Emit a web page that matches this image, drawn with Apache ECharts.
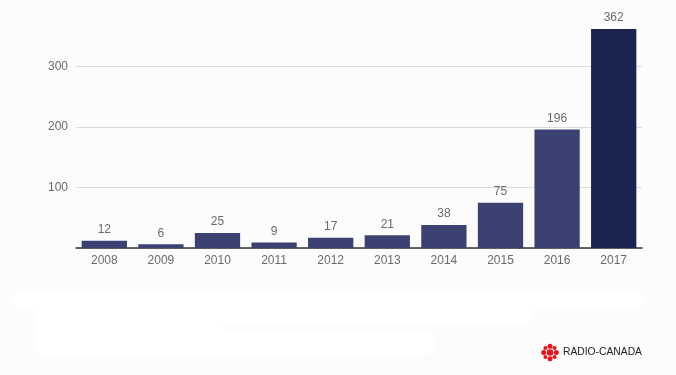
<!DOCTYPE html>
<html>
<head>
<meta charset="utf-8">
<script src="https://cdn.jsdelivr.net/npm/echarts@6/dist/echarts.min.js"></script>
<style>
html,body{margin:0;padding:0;background:#fcfcfc;}
#c{width:676px;height:375px;}
</style>
</head>
<body>
<div id="c"></div>
<script>
const categories = ['2008','2009','2010','2011','2012','2013','2014','2015','2016','2017'];
const values = [12, 6, 25, 9, 17, 21, 38, 75, 196, 362];
const yTicks = [100, 200, 300];

const chart = echarts.init(document.getElementById('c'), null, {renderer: 'canvas'});
const barData = values.map((v, i) => ({
  value: v,
  itemStyle: {color: i === values.length - 1 ? '#1b2351' : '#3b4272'}
}));

const gemParts = [];
gemParts.push({type:'circle', shape:{cx:0, cy:0, r:3.3}, style:{fill:'#e8141b'}});
[[0,-6.3],[0,6.3],[-6.3,0],[6.3,0]].forEach(p=>gemParts.push({type:'circle', shape:{cx:p[0], cy:p[1], r:2.5}, style:{fill:'#e8141b'}}));
[[-4.6,-4.6],[4.6,-4.6],[-4.6,4.6],[4.6,4.6]].forEach(p=>gemParts.push({type:'circle', shape:{cx:p[0], cy:p[1], r:2.0}, style:{fill:'#e8141b'}}));

chart.setOption({
  backgroundColor: '#fcfcfc',
  animation: false,
  grid: {left: 76, right: 34, top: 6, bottom: 127},
  xAxis: {
    type: 'category',
    data: categories,
    axisTick: {show: false},
    axisLine: {lineStyle: {color: '#333', width: 1.5}},
    axisLabel: {color: '#6a6a6a', fontSize: 12, margin: 7, fontFamily: 'Liberation Sans, Arial, sans-serif'}
  },
  yAxis: {
    type: 'value',
    min: 0, max: 400, interval: 100,
    axisLine: {show: false},
    axisTick: {show: false},
    axisLabel: {
      color: '#6a6a6a', fontSize: 12, margin: 8, fontFamily: 'Liberation Sans, Arial, sans-serif',
      formatter: v => yTicks.indexOf(v) >= 0 ? String(v) : ''
    },
    splitLine: {show: true, showMaxLine: false, lineStyle: {color: '#dcdcdc', width: 1}}
  },
  series: [{
    type: 'bar',
    data: barData,
    barCategoryGap: '20%',
    label: {show: true, position: 'top', distance: 5, color: '#6a6a6a', fontSize: 12, fontFamily: 'Liberation Sans, Arial, sans-serif'}
  }],
  graphic: [
    {type:'rect', shape:{x:12, y:290, width:632, height:20, r:10}, style:{fill:'#ffffff'}},
    {type:'rect', shape:{x:35, y:302, width:500, height:22, r:10}, style:{fill:'#ffffff'}},
    {type:'rect', shape:{x:35, y:320, width:190, height:20, r:10}, style:{fill:'#ffffff'}},
    {type:'rect', shape:{x:35, y:330, width:400, height:26, r:12}, style:{fill:'#ffffff'}},
    {type:'group', x:550, y:352.5, children: gemParts},
    {type:'text', x:563, y:352.5, style:{text:'RADIO-CANADA', fill:'#222', fontSize:10.3, fontFamily:'Liberation Sans, Arial, sans-serif', textVerticalAlign:'middle', verticalAlign:'middle'}}
  ]
});
</script>
</body>
</html>
